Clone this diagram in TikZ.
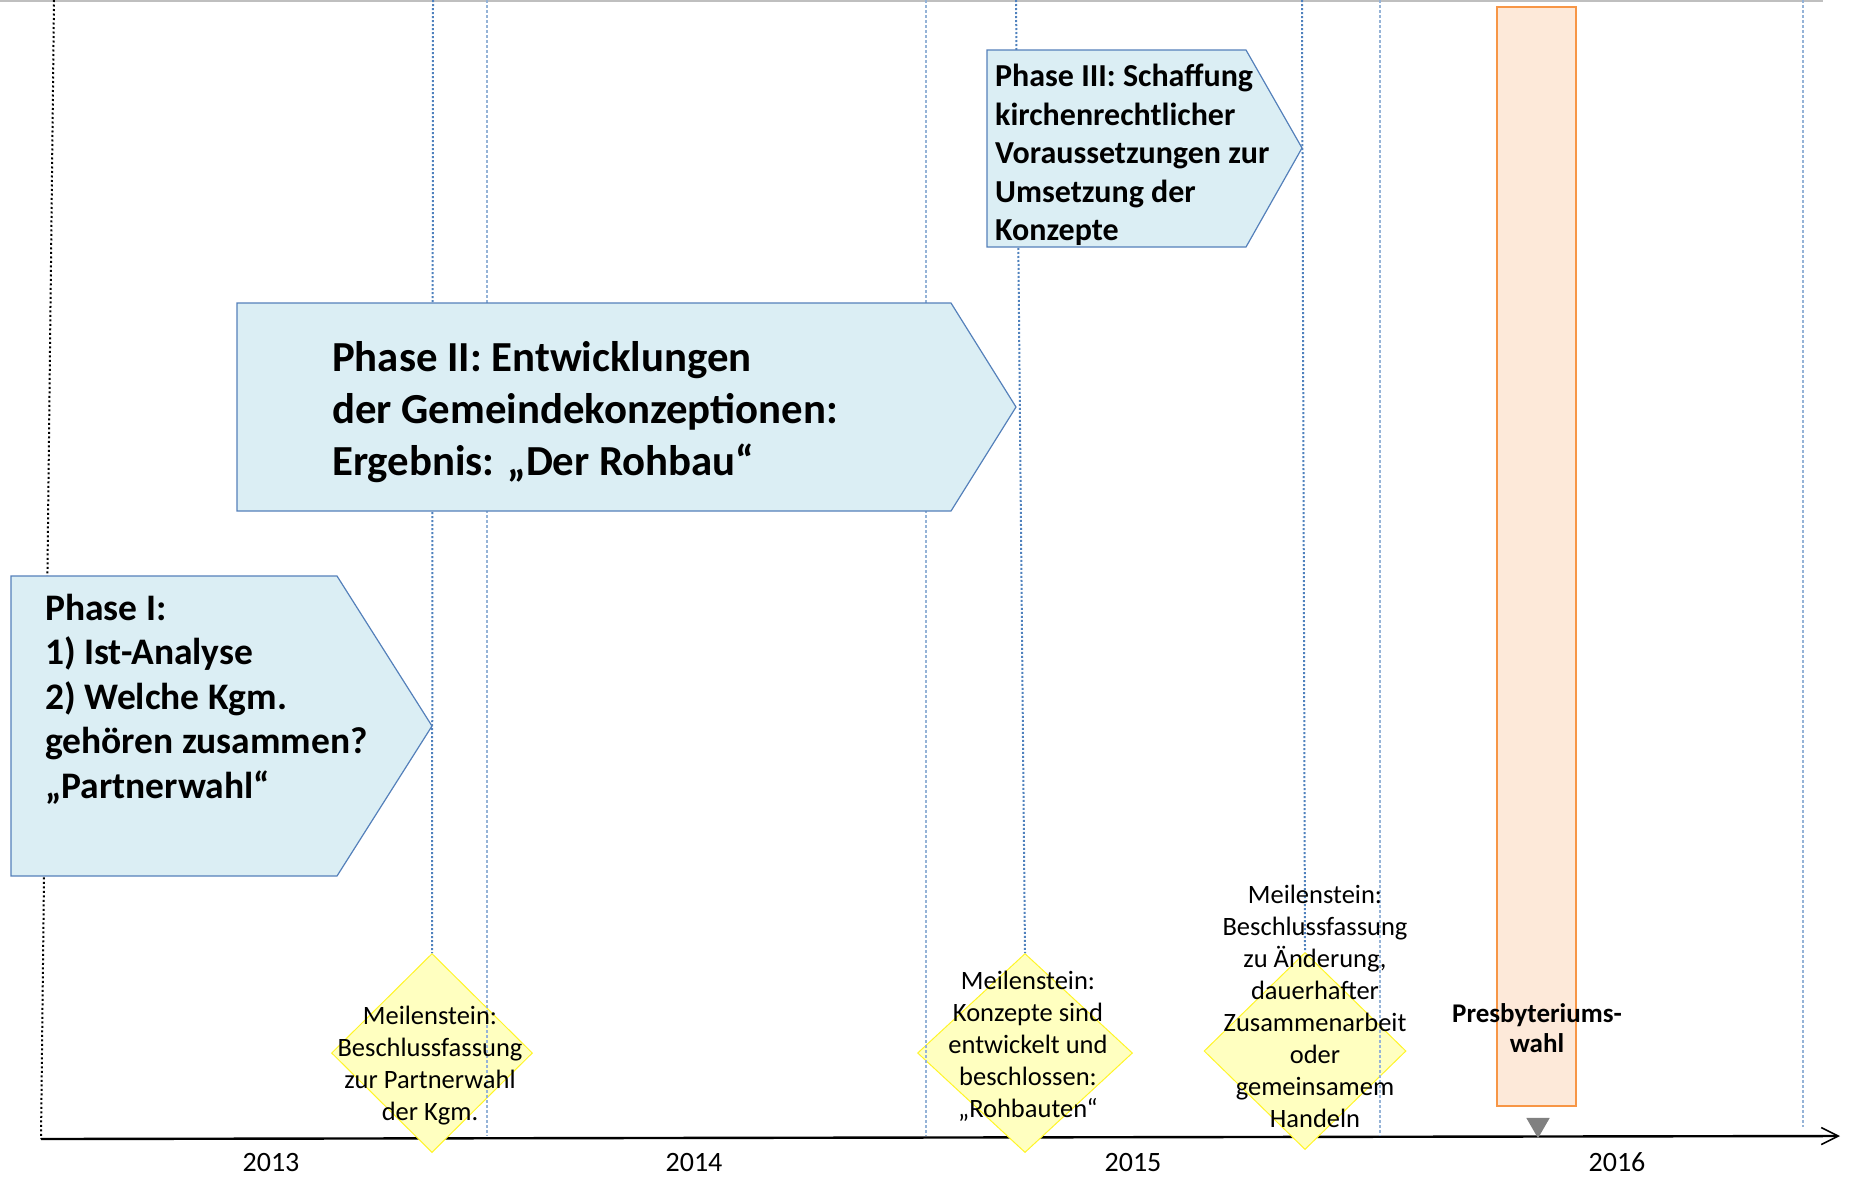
\documentclass[tikz,border=0pt]{standalone}
\usepackage{fontspec}
\setmainfont{Carlito}
\usepackage{xcolor}
\usetikzlibrary{arrows.meta,positioning,calc,shapes.geometric}
\definecolor{phasefill}{RGB}{219,238,244}
\definecolor{phaseline}{RGB}{84,128,186}
\definecolor{gridblue}{RGB}{79,129,189}
\definecolor{lightgrid}{RGB}{149,179,215}
\definecolor{msfill}{RGB}{255,255,192}
\definecolor{msline}{RGB}{255,245,40}
\definecolor{wahlfill}{RGB}{253,233,217}
\definecolor{wahlline}{RGB}{247,150,70}

\begin{document}
\begin{tikzpicture}[x=1pt,y=-1pt,>=Stealth]
  \tikzstyle{phase}=[draw=phaseline,line width=1.2pt,fill=phasefill]
  \tikzstyle{phasetext}=[anchor=west,align=left,inner sep=0pt]
  \tikzstyle{milestone}=[diamond,draw=msline,line width=1pt,fill=msfill,inner sep=0pt]
  \tikzstyle{mstext}=[align=center,inner sep=0pt,font=\fontsize{26.5}{32}\selectfont]
  \tikzstyle{gridmain}=[gridblue,line width=2pt,dash pattern=on 2pt off 2pt]
  \tikzstyle{gridthin}=[lightgrid,line width=1.1pt,dash pattern=on 3pt off 2pt]
  \tikzstyle{year}=[inner sep=0pt,font=\fontsize{28}{34}\selectfont]
  \useasboundingbox (0,0) rectangle (1851,1176);

  % top rule and time axis
  \draw[black!25,line width=2pt] (0,1) -- (1823,1);
  \coordinate (origin) at (41,1139);
  \coordinate (axisend) at (1840,1136);
  \draw[black,line width=2pt,dash pattern=on 2pt off 2.5pt] (54,0) -- (origin);
  \draw[line width=2.4pt,-{Straight Barb[length=17pt,width=17pt,line width=1.6pt]}] (origin) -- (axisend);

  \node[year] (y2013) at (271,1162) {2013};
  \node[year] (y2014) at (694,1162) {2014};
  \node[year] (y2015) at (1133,1162) {2015};
  \node[year] (y2016) at (1617,1162) {2016};

  % milestones
  \node[milestone,minimum width=201pt,minimum height=199pt] (ms1) at (432,1053) {};
  \node[milestone,minimum width=215pt,minimum height=199pt] (ms2) at (1025,1053) {};
  \node[milestone,minimum width=202pt,minimum height=197pt] (ms3) at (1305,1051) {};
  \draw[gridmain] (433,0) -- (ms1.north);
  \draw[gridmain] (1016,0) -- (ms2.north);
  \draw[gridmain] (1302,0) -- (ms3.north);
  \foreach \x/\yend in {487/1136,926/1136,1380/1136,1803/1127}
    \draw[gridthin] (\x,0) -- (\x,\yend);

  \node[mstext] (ms1text) at (430,1066) {Meilenstein:\\Beschlussfassung\\zur Partnerwahl\\der Kgm.};
  \node[mstext] (ms2text) at (1028,1046) {Meilenstein:\\Konzepte sind\\entwickelt und\\beschlossen:\\„Rohbauten“};
  \node[mstext] (ms3text) at (1315,1006) {Meilenstein:\\Beschlussfassung\\zu Änderung,\\dauerhafter\\Zusammenarbeit\\oder\\gemeinsamem\\Handeln};

  % phases
  \draw[phase] (11,576) -- (337,576) -- (432,726) -- (337,876) -- (11,876) -- cycle;
  \draw[phase] (237,303) -- (951,303) -- (1016,407) -- (951,511) -- (237,511) -- cycle;
  \draw[phase] (987,50) -- (1246,50) -- (1302,148) -- (1246,247) -- (987,247) -- cycle;
  \node[phasetext,font=\bfseries\fontsize{37.5}{44.5}\selectfont] (phaseI) at (45,699)
    {Phase I:\\1) Ist-Analyse\\2) Welche Kgm.\\gehören zusammen?\\„Partnerwahl“};
  \node[phasetext,font=\bfseries\fontsize{42.8}{52}\selectfont] (phaseII) at (332,412)
    {Phase II: Entwicklungen\\der Gemeindekonzeptionen:\\Ergebnis: „Der Rohbau“};
  \node[phasetext,font=\bfseries\fontsize{32}{38.5}\selectfont] (phaseIII) at (995,155)
    {Phase III: Schaffung\\kirchenrechtlicher\\Voraussetzungen zur\\Umsetzung der\\Konzepte};

  % election
  \node[draw=wahlline,line width=1.5pt,fill=wahlfill,minimum width=79pt,minimum height=1099pt,inner sep=0pt] (wahl) at (1536.5,556.5) {};
  \node[align=center,inner sep=0pt,font=\bfseries\fontsize{27}{30}\selectfont] (wahltext) at (1537,1028) {Presbyteriums-\\wahl};
  \node[regular polygon,regular polygon sides=3,shape border rotate=180,fill=black!50,minimum size=27pt,inner sep=0pt] (wahlmark) at (1538,1124.7) {};
\end{tikzpicture}
\end{document}
